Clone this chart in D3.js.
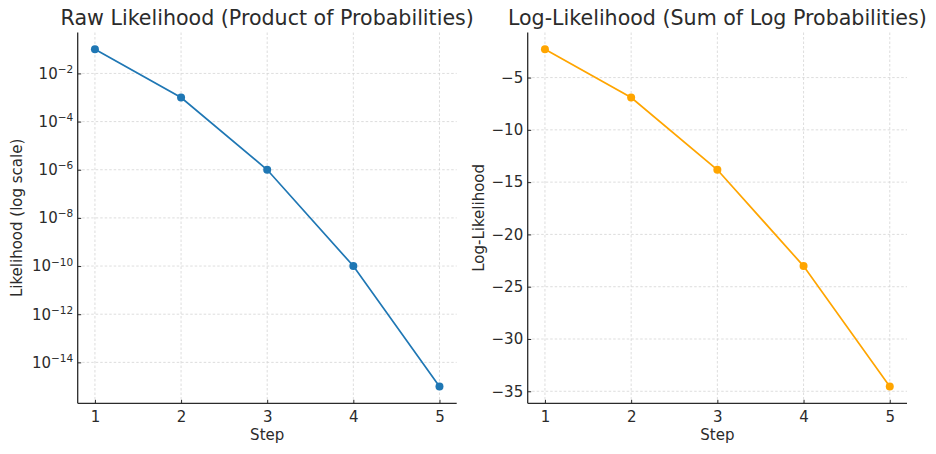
<!DOCTYPE html>
<html>
<head>
<meta charset="utf-8">
<script src="https://cdn.jsdelivr.net/npm/d3@7"></script>
<style>
  body { margin: 0; background: #fff; }
  text { font-family: "DejaVu Sans", sans-serif; fill: #2b2b2b; }
</style>
</head>
<body>
<svg id="chart" width="936" height="454"></svg>
<script>
// data
var steps = [1, 2, 3, 4, 5];
var likelihood = [1e-1, 1e-3, 1e-6, 1e-10, 1e-15];
var logLikelihood = [-2.303, -6.908, -13.816, -23.026, -34.539];
var logTicks = [1e-2, 1e-4, 1e-6, 1e-8, 1e-10, 1e-12, 1e-14];
var linTicks = [-5, -10, -15, -20, -25, -30, -35];

var svg = d3.select("#chart");
var top_y = 32.5, bottom_y = 403.3;

function drawPanel(opts){
    var g = svg.append("g");
    var x = d3.scaleLinear().domain([0.8, 5.2]).range([opts.left, opts.right]);
    var y = opts.y;

    // grid
    g.selectAll(".gx").data(steps).enter().append("line")
        .attr("x1", d => x(d)).attr("x2", d => x(d))
        .attr("y1", top_y).attr("y2", bottom_y)
        .attr("stroke", "#d4d4d4").attr("stroke-width", 0.8)
        .attr("stroke-dasharray", "2.5,2");
    g.selectAll(".gy").data(opts.ticks).enter().append("line")
        .attr("x1", opts.left).attr("x2", opts.right)
        .attr("y1", d => y(d)).attr("y2", d => y(d))
        .attr("stroke", "#d4d4d4").attr("stroke-width", 0.8)
        .attr("stroke-dasharray", "2.5,2");

    // axes
    var xAxis = d3.axisBottom(x).tickValues(steps).tickFormat(d3.format("d"))
        .tickSizeInner(-3.5).tickSizeOuter(0).tickPadding(8);
    var gx = g.append("g").attr("transform", "translate(0," + bottom_y + ")").call(xAxis);
    var yAxis = d3.axisLeft(y).tickValues(opts.ticks).tickSizeInner(-3.5).tickSizeOuter(0).tickPadding(4.5);
    var gy = g.append("g").attr("transform", "translate(" + opts.left + ",0)").call(yAxis);
    [gx, gy].forEach(function(a){
        a.select(".domain").attr("stroke", "#2b2b2b").attr("stroke-width", 1.3);
        a.selectAll(".tick line").attr("stroke", "#2b2b2b");
        a.selectAll(".tick text").attr("font-size", 15).attr("font-family", "DejaVu Sans").attr("fill", "#2b2b2b");
    });
    // only bottom and left spines
    gx.select(".domain").attr("d", "M" + opts.left + ",0H" + opts.right);
    gy.select(".domain").attr("d", "M0," + top_y + "V" + bottom_y);

    if (opts.log){
        gy.selectAll(".tick text").each(function(d){
            var t = d3.select(this).text("");
            t.append("tspan").text("10");
            t.append("tspan").attr("dy", "-0.55em").attr("font-size", 10.5)
                .text("\u2212" + Math.round(-Math.log10(d)));
        });
    }

    // line + markers
    var line = d3.line().x((d, i) => x(steps[i])).y(d => y(d));
    g.append("path").datum(opts.values)
        .attr("d", line).attr("fill", "none")
        .attr("stroke", opts.color).attr("stroke-width", 1.7);
    g.selectAll(".pt").data(opts.values).enter().append("circle")
        .attr("cx", (d, i) => x(steps[i])).attr("cy", d => y(d))
        .attr("r", 4).attr("fill", opts.color);

    // labels
    var cx = (opts.left + opts.right) / 2;
    g.append("text").attr("x", cx).attr("y", 25).attr("text-anchor", "middle")
        .attr("font-size", 20.6).text(opts.title);
    g.append("text").attr("x", cx).attr("y", 440).attr("text-anchor", "middle")
        .attr("font-size", 15).text("Step");
    g.append("text")
        .attr("transform", "translate(" + opts.ylabelX + "," + ((top_y + bottom_y) / 2) + ") rotate(-90)")
        .attr("text-anchor", "middle").attr("font-size", 15).text(opts.ylabel);
}

drawPanel({
    left: 77.7, right: 456.7,
    y: d3.scaleLog().domain([Math.pow(10, -15.7), Math.pow(10, -0.3)]).range([bottom_y, top_y]),
    ticks: logTicks, log: true,
    values: likelihood, color: "#1f77b4",
    title: "Raw Likelihood (Product of Probabilities)",
    ylabel: "Likelihood (log scale)", ylabelX: 22
});

drawPanel({
    left: 527.7, right: 907,
    y: d3.scaleLinear().domain([-36.15, -0.69]).range([bottom_y, top_y]),
    ticks: linTicks, log: false,
    values: logLikelihood, color: "#ffa500",
    title: "Log-Likelihood (Sum of Log Probabilities)",
    ylabel: "Log-Likelihood", ylabelX: 484
});
</script>
</body>
</html>
